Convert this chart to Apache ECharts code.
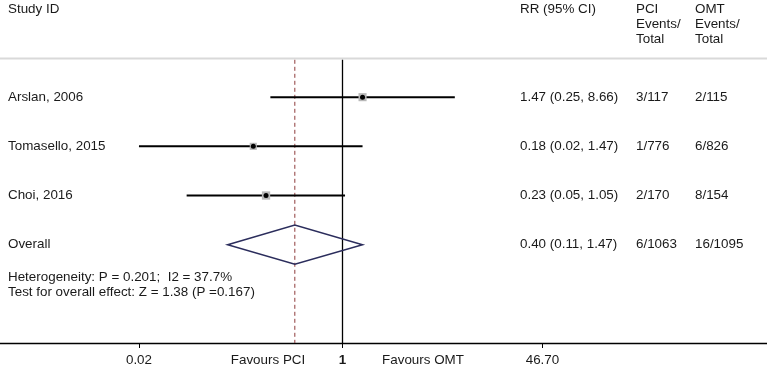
<!DOCTYPE html>
<html>
<head>
<meta charset="utf-8">
<script src="https://cdn.jsdelivr.net/npm/echarts@6/dist/echarts.min.js"></script>
<style>
  html, body { margin: 0; padding: 0; background: #fff; }
  #main { width: 767px; height: 368px; }
</style>
</head>
<body>
<div id="main"></div>
<script>
// study rows
const studies = ['Arslan, 2006', 'Tomasello, 2015', 'Choi, 2016']
const rr = [1.47, 0.18, 0.23]
const ciLow = [0.25, 0.02, 0.05]
const ciHigh = [8.66, 1.47, 1.05]
const weights = [36, 26, 38]
const pciEvents = ['3/117', '1/776', '2/170']
const omtEvents = ['2/115', '6/826', '8/154']

// pooled estimate
const overallLabel = 'Overall'
const overallRR = 0.40
const overallLow = 0.11
const overallHigh = 1.47
const overallPci = '6/1063'
const overallOmt = '16/1095'

const tickValues = [0.02, 1, 46.70]
const tickLabels = ['0.02', '1', '46.70']
const favourLabels = ['Favours PCI', 'Favours OMT']
const notes = ['Heterogeneity: P = 0.201;  I2 = 37.7%', 'Test for overall effect: Z = 1.38 (P =0.167)']

const FAMILY = '"Liberation Sans", Arial, sans-serif'
const FONT = '13.4px ' + FAMILY
const TEXT = '#1a1a1a'
const lg = v => Math.log10(v)
const fmt = (r, a, b) => r.toFixed(2) + ' (' + a.toFixed(2) + ', ' + b.toFixed(2) + ')'

// rows of the table: study rows then overall
const rows = studies.map((s, i) => [s, fmt(rr[i], ciLow[i], ciHigh[i]), pciEvents[i], omtEvents[i]])
rows.push([overallLabel, fmt(overallRR, overallLow, overallHigh), overallPci, overallOmt])

const chart = echarts.init(document.getElementById('main'))

function text(str, x, y, align) {
  return {
    type: 'text',
    silent: true,
    style: { text: str, x, y, font: FONT, fill: TEXT, align: align || 'left', verticalAlign: 'middle' },
  }
}

// pixels per decade and where 1 sits
const PX = 119.8
const X1 = 342.5

const option = {
  animation: false,
  grid: { left: 0, right: 0, top: 48, bottom: 25, containLabel: false, outerBoundsMode: 'none' },
  xAxis: {
    type: 'value',
    min: -X1 / PX,
    max: (767 - X1) / PX,
    axisLine: { show: true, onZero: false, lineStyle: { color: '#000', width: 1.3 } },
    axisTick: { show: true, customValues: tickValues.map(lg), length: 5, lineStyle: { color: '#000', width: 1 } },
    axisLabel: {
      customValues: tickValues.map(lg),
      margin: 11,
      fontFamily: FAMILY,
      fontSize: 13.4,
      color: TEXT,
      formatter: (v) => {
        const i = tickValues.findIndex(t => Math.abs(lg(t) - v) < 1e-6)
        if (i < 0) return ''
        return tickValues[i] === 1 ? '{b|' + tickLabels[i] + '}' : tickLabels[i]
      },
      rich: { b: { fontWeight: 'bold', fontSize: 13.4, fontFamily: FAMILY, color: TEXT } },
    },
    splitLine: { show: false },
  },
  yAxis: { type: 'value', inverse: true, min: 0, max: 6, show: false },
  graphic: [
    { type: 'line', silent: true, shape: { x1: 0, y1: 58.5, x2: 767, y2: 58.5 }, style: { stroke: '#d9d9d9', lineWidth: 2 } },
    text('Study ID', 8, 9),
    text('RR (95% CI)', 520, 9),
    { type: 'text', silent: true, style: { text: 'PCI\nEvents/\nTotal', x: 636, y: 2, font: FONT, fill: TEXT, lineHeight: 15 } },
    { type: 'text', silent: true, style: { text: 'OMT\nEvents/\nTotal', x: 695, y: 2, font: FONT, fill: TEXT, lineHeight: 15 } },
    text(notes[0], 8, 277),
    text(notes[1], 8, 292.5),
    text(favourLabels[0], 268, 360, 'center'),
    text(favourLabels[1], 423, 360, 'center'),
  ],
  series: [
    {
      // reference lines: no effect (1) and pooled estimate
      type: 'custom',
      silent: true,
      data: [[lg(1), 0], [lg(overallRR), 1]],
      encode: { x: 0 },
      renderItem: (params, api) => {
        const p1 = api.coord([api.value(0), 0.24])
        const p2 = api.coord([api.value(0), 6])
        const dashed = api.value(1) === 1
        return {
          type: 'line',
          shape: { x1: p1[0], y1: p1[1], x2: p2[0], y2: p2[1] },
          style: dashed
            ? { stroke: '#8e3b3b', lineWidth: 1, lineDash: [4, 3] }
            : { stroke: '#000', lineWidth: 1.3 },
        }
      },
    },
    {
      // confidence intervals
      type: 'custom',
      silent: true,
      data: studies.map((s, i) => [lg(ciLow[i]), lg(ciHigh[i]), i + 1]),
      encode: { x: [0, 1], y: 2 },
      renderItem: (params, api) => {
        const p1 = api.coord([api.value(0), api.value(2)])
        const p2 = api.coord([api.value(1), api.value(2)])
        return {
          type: 'line',
          shape: { x1: p1[0], y1: p1[1], x2: p2[0], y2: p2[1] },
          style: { stroke: '#000', lineWidth: 2 },
        }
      },
    },
    {
      // weight boxes
      type: 'scatter',
      silent: true,
      symbol: 'rect',
      symbolSize: v => 4.5 + v[2] / 10,
      itemStyle: { color: '#b8b8b8', opacity: 1 },
      data: studies.map((s, i) => [lg(rr[i]), i + 1, weights[i]]),
    },
    {
      // point estimates
      type: 'scatter',
      silent: true,
      symbol: 'circle',
      symbolSize: 5,
      itemStyle: { color: '#000', opacity: 1 },
      data: studies.map((s, i) => [lg(rr[i]), i + 1]),
    },
    {
      // pooled diamond
      type: 'custom',
      silent: true,
      data: [[lg(overallLow), lg(overallRR), lg(overallHigh), studies.length + 1]],
      encode: { x: [0, 1, 2], y: 3 },
      renderItem: (params, api) => {
        const y = api.value(3)
        const pts = [
          api.coord([api.value(0), y]),
          api.coord([api.value(1), y - 0.4]),
          api.coord([api.value(2), y]),
          api.coord([api.value(1), y + 0.4]),
        ]
        return {
          type: 'polygon',
          shape: { points: pts },
          style: { fill: 'none', stroke: '#2b2d5c', lineWidth: 1.5 },
        }
      },
    },
    {
      // table text
      type: 'custom',
      silent: true,
      data: rows.map((r, i) => [0, i + 1]),
      encode: { y: 1 },
      renderItem: (params, api) => {
        const r = rows[params.dataIndex]
        const y = api.coord([0, api.value(1)])[1]
        const cols = [8, 520, 636, 695]
        return {
          type: 'group',
          children: r.map((s, k) => ({
            type: 'text',
            style: { text: s, x: cols[k], y, font: FONT, fill: TEXT, verticalAlign: 'middle' },
          })),
        }
      },
    },
  ],
}

chart.setOption(option)
</script>
</body>
</html>
